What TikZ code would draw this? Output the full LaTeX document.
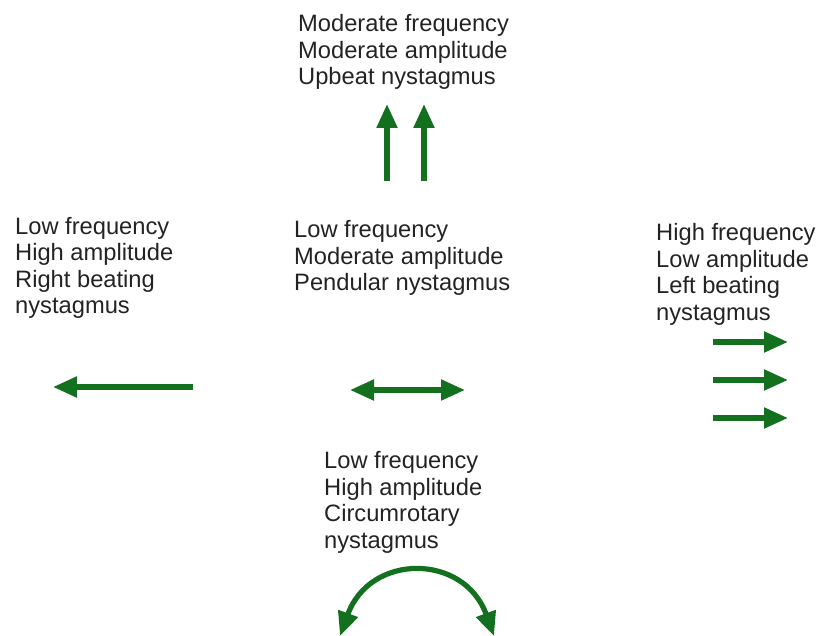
\documentclass[tikz,border=0pt]{standalone}
\usepackage{fontspec}
\setmainfont{Liberation Sans}
\usetikzlibrary{arrows.meta}

\definecolor{nygreen}{RGB}{18,112,30}
\definecolor{nytext}{RGB}{35,35,35}

\begin{document}
\begin{tikzpicture}[
  x=1pt,y=-1pt,
  font=\fontsize{23.7}{26.5}\selectfont,
  label/.style={anchor=base west,align=left,inner sep=0pt,text=nytext},
  flow/.style={-{Triangle[length=24pt,width=20pt]},line width=5.2pt,draw=nygreen},
  both/.style={flow,{Triangle[length=24pt,width=20pt]}-{Triangle[length=24pt,width=20pt]}}
]
\useasboundingbox (0,0) rectangle (830,636);

% ---- text blocks (anchored at the last line) ----
\node[label] (up)   at (298,85)  {Moderate frequency\\Moderate amplitude\\Upbeat nystagmus};
\node[label] (rbt)  at (15,314)  {Low frequency\\High amplitude\\Right beating\\nystagmus};
\node[label] (pend) at (294,291) {Low frequency\\Moderate amplitude\\Pendular nystagmus};
\node[label] (lbt)  at (656,320) {High frequency\\Low amplitude\\Left beating\\nystagmus};
\node[label] (circ) at (324,548) {Low frequency\\High amplitude\\Circumrotary\\nystagmus};

% ---- arrow end points ----
\coordinate (upL0) at (387,181);  \coordinate (upL1) at (387,104);
\coordinate (upR0) at (424,181);  \coordinate (upR1) at (424,104);
\coordinate (lt0)  at (193,387);  \coordinate (lt1)  at (53,387);
\coordinate (pd0)  at (350,390);  \coordinate (pd1)  at (465,390);
\coordinate (rtA0) at (713,342);  \coordinate (rtA1) at (788,342);
\coordinate (rtB0) at (713,380);  \coordinate (rtB1) at (788,380);
\coordinate (rtC0) at (713,418);  \coordinate (rtC1) at (788,418);
\coordinate (cr0)  at (340,636);  \coordinate (cr1)  at (494,636);

% ---- arrows ----
\draw[flow] (upL0)--(upL1);
\draw[flow] (upR0)--(upR1);
\draw[flow] (lt0)--(lt1);
\draw[both] (pd0)--(pd1);
\draw[flow] (rtA0)--(rtA1);
\draw[flow] (rtB0)--(rtB1);
\draw[flow] (rtC0)--(rtC1);
\draw[both] (cr0) .. controls (370,553) and (464,553) .. (cr1);

\end{tikzpicture}
\end{document}
